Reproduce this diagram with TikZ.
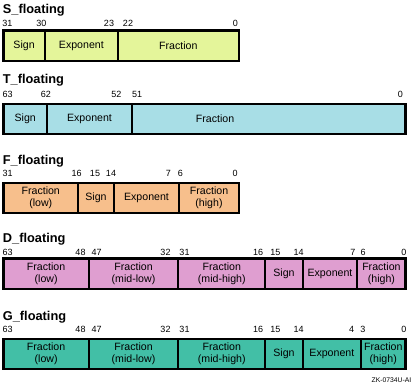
\documentclass[tikz,border=0pt]{standalone}
\usepackage{fontspec}
\setmainfont{Liberation Sans}
\definecolor{scol}{HTML}{E4F59A}
\definecolor{tcol}{HTML}{A8DEE6}
\definecolor{fcol}{HTML}{F7BF8C}
\definecolor{dcol}{HTML}{DF9ED0}
\definecolor{gcol}{HTML}{42BFA6}
% name, x0, x1, ytop, colour, text
\newcommand\regfield[6]{%
  \node[field, fill=#5, minimum width={(#3-#2)*1pt}] (#1) at ({(#2+#3)/2},{#4+15.2}) {#6};}
\begin{document}
\begin{tikzpicture}[x=1pt,y=-1pt,
  field/.style={draw, line width=2.3pt, inner sep=0pt, minimum height=30.4pt, align=center,
                font=\fontsize{10.6}{11.8}\selectfont},
  fieldtext/.style={inner sep=0pt, align=center, font=\fontsize{10.6}{11.8}\selectfont},
  regtitle/.style={anchor=base west, inner sep=0pt, font=\bfseries\fontsize{12.8}{14}\selectfont},
  bitnum/.style={anchor=base, inner sep=0pt, font=\fontsize{9}{10}\selectfont}]
\useasboundingbox (0,0) rectangle (414,385);

% ---------- S_floating ----------
\node[regtitle] (stitle) at (2.7,14) {S\_floating};
\regfield{ssign}{3.5}{44.7}{30.5}{scol}{Sign}
\regfield{sexp}{44.7}{118}{30.5}{scol}{Exponent}
\regfield{sfrac}{118}{238.7}{30.5}{scol}{Fraction}
\node[bitnum] (s31) at (7.3,26.7) {31};
\node[bitnum] (s30) at (41.3,26.7) {30};
\node[bitnum] (s23) at (109,26.7) {23};
\node[bitnum] (s22) at (128,26.7) {22};
\node[bitnum] (s0) at (235.3,26.7) {0};

% ---------- T_floating ----------
\node[regtitle] (ttitle) at (2.7,84) {T\_floating};
\regfield{tsign}{3.5}{47}{103.7}{tcol}{Sign}
\regfield{texp}{47}{132}{103.7}{tcol}{Exponent}
\regfield{tfrac}{132}{405.5}{103.7}{tcol}{}
\node[fieldtext] (tfraclbl) at (215,118.9) {Fraction};
\node[bitnum] (t63) at (7.7,98) {63};
\node[bitnum] (t62) at (46,98) {62};
\node[bitnum] (t52) at (116.3,98) {52};
\node[bitnum] (t51) at (137.2,98) {51};
\node[bitnum] (t0) at (400.3,98) {0};

% ---------- F_floating ----------
\node[regtitle] (ftitle) at (2.7,164) {F\_floating};
\regfield{ffraclow}{3.5}{78}{182.7}{fcol}{Fraction\\(low)}
\regfield{fsign}{78}{114}{182.7}{fcol}{Sign}
\regfield{fexp}{114}{179}{182.7}{fcol}{Exponent}
\regfield{ffrachigh}{179}{239}{182.7}{fcol}{Fraction\\(high)}
\node[bitnum] (f31) at (7.7,176.7) {31};
\node[bitnum] (f16) at (76.7,176.7) {16};
\node[bitnum] (f15) at (95,176.7) {15};
\node[bitnum] (f14) at (111,176.7) {14};
\node[bitnum] (f7) at (168.3,176.7) {7};
\node[bitnum] (f6) at (180.3,176.7) {6};
\node[bitnum] (f0) at (235,176.7) {0};

% ---------- D_floating ----------
\node[regtitle] (dtitle) at (2.7,242.3) {D\_floating};
\regfield{dfraclow}{3.5}{88.7}{258.5}{dcol}{Fraction\\(low)}
\regfield{dfracml}{88.7}{178.3}{258.5}{dcol}{Fraction\\(mid-low)}
\regfield{dfracmh}{178.3}{265.3}{258.5}{dcol}{Fraction\\(mid-high)}
\regfield{dsign}{265.3}{302.7}{258.5}{dcol}{Sign}
\regfield{dexp}{302.7}{357.3}{258.5}{dcol}{Exponent}
\regfield{dfrachigh}{357.3}{405.5}{258.5}{dcol}{Fraction\\(high)}
\node[bitnum] (d63) at (7.7,255.7) {63};
\node[bitnum] (d48) at (80.5,255.7) {48};
\node[bitnum] (d47) at (96.7,255.7) {47};
\node[bitnum] (d32) at (165.5,255.7) {32};
\node[bitnum] (d31) at (184.5,255.7) {31};
\node[bitnum] (d16) at (258,255.7) {16};
\node[bitnum] (d15) at (275.3,255.7) {15};
\node[bitnum] (d14) at (298.5,255.7) {14};
\node[bitnum] (d7) at (352.8,255.7) {7};
\node[bitnum] (d6) at (363.2,255.7) {6};
\node[bitnum] (d0) at (403.8,255.7) {0};

% ---------- G_floating ----------
\node[regtitle] (gtitle) at (2.7,320) {G\_floating};
\regfield{gfraclow}{3.5}{88.7}{338.7}{gcol}{Fraction\\(low)}
\regfield{gfracml}{88.7}{178.3}{338.7}{gcol}{Fraction\\(mid-low)}
\regfield{gfracmh}{178.3}{265.3}{338.7}{gcol}{Fraction\\(mid-high)}
\regfield{gsign}{265.3}{302.7}{338.7}{gcol}{Sign}
\regfield{gexp}{302.7}{361}{338.7}{gcol}{Exponent}
\regfield{gfrachigh}{361}{405.5}{338.7}{gcol}{Fraction\\(high)}
\node[bitnum] (g63) at (7.7,332.7) {63};
\node[bitnum] (g48) at (80.5,332.7) {48};
\node[bitnum] (g47) at (96.7,332.7) {47};
\node[bitnum] (g32) at (165.5,332.7) {32};
\node[bitnum] (g31) at (184.5,332.7) {31};
\node[bitnum] (g16) at (258,332.7) {16};
\node[bitnum] (g15) at (275.3,332.7) {15};
\node[bitnum] (g14) at (298.5,332.7) {14};
\node[bitnum] (g4) at (351.5,332.7) {4};
\node[bitnum] (g3) at (362.8,332.7) {3};
\node[bitnum] (g0) at (403.8,332.7) {0};

\node[anchor=base east, inner sep=0pt, font=\fontsize{6.8}{8}\selectfont] (code) at (411.5,382.5) {ZK-0734U-AI};
\end{tikzpicture}
\end{document}
